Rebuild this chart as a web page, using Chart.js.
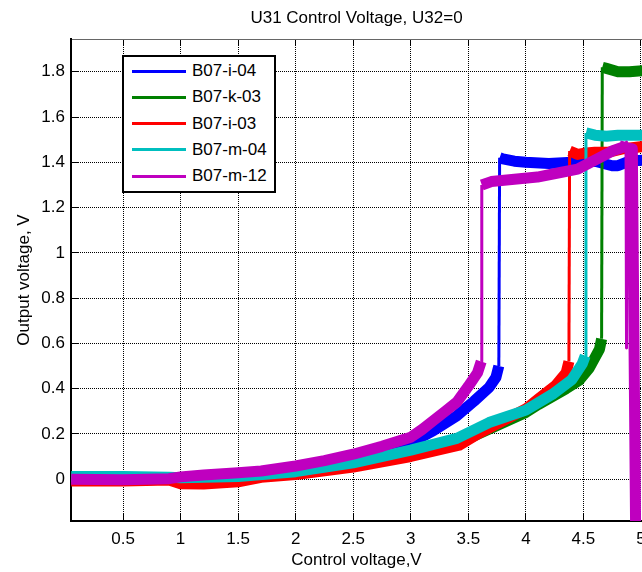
<!DOCTYPE html>
<html>
<head>
<meta charset="utf-8">
<title>U31 Control Voltage, U32=0</title>
<script src="https://cdn.jsdelivr.net/npm/chart.js@4.4.1/dist/chart.umd.min.js"></script>
<style>
  html, body { margin: 0; padding: 0; background: #fff; overflow: hidden; }
  #wrap { position: relative; width: 642px; height: 572px; }
  #legend {
    position: absolute; left: 122px; top: 55px; width: 150px; height: 133px;
    padding-top: 1px; border: 2px solid #000; background: #fff;
    font: 17px 'Liberation Sans', Arial, sans-serif; color: #000;
  }
  .row { display: flex; align-items: center; height: 26.25px; }
  .swatch { display: inline-block; width: 54px; height: 3px; margin: 0 6px 0 8px; }
</style>
</head>
<body>
<div id="wrap">
  <canvas id="chart" width="642" height="572"></canvas>
  <div id="legend"></div>
</div>
<script>
const seriesNames = ['B07-i-04', 'B07-k-03', 'B07-i-03', 'B07-m-04', 'B07-m-12'];
const seriesColors = ['#0000ff', '#008000', '#ff0000', '#00bfbf', '#bf00bf'];

const xTicks = [0.5, 1, 1.5, 2, 2.5, 3, 3.5, 4, 4.5, 5];
const yTicks = [0, 0.2, 0.4, 0.6, 0.8, 1, 1.2, 1.4, 1.6, 1.8];

const X_MIN = 0.048, X_MAX = 5.009;
const Y_MIN = -0.185, Y_MAX = 1.945;

// B07-i-04
const i04X = [0.05, 0.5, 1.0, 1.5, 2.0, 2.5, 2.8, 3.0, 3.2, 3.4, 3.55, 3.68, 3.74, 3.765, 3.772, 3.8, 3.9, 4.0, 4.2, 4.4, 4.6, 4.75, 4.8, 4.9, 5.02];
const i04Y = [-0.003, -0.006, 0.002, 0.02, 0.05, 0.09, 0.13, 0.16, 0.215, 0.28, 0.345, 0.405, 0.45, 0.50, 1.42, 1.415, 1.405, 1.40, 1.395, 1.40, 1.405, 1.385, 1.385, 1.405, 1.41];

// B07-k-03
const k03X = [0.05, 0.5, 1.0, 1.5, 2.0, 2.5, 3.0, 3.5, 4.0, 4.11, 4.35, 4.46, 4.55, 4.64, 4.658, 4.664, 4.7, 4.8, 4.9, 5.02];
const k03Y = [0.005, 0.006, 0.0, 0.005, 0.028, 0.065, 0.12, 0.18, 0.295, 0.33, 0.40, 0.435, 0.49, 0.575, 0.62, 1.82, 1.815, 1.80, 1.80, 1.805];

// B07-i-03
const i03X = [0.05, 0.5, 0.9, 1.0, 1.2, 1.5, 1.7, 2.0, 2.5, 3.0, 3.42, 3.6, 3.83, 4.0, 4.11, 4.26, 4.35, 4.374, 4.38, 4.45, 4.5, 4.6, 4.72, 4.85, 5.02];
const i03Y = [-0.008, -0.008, -0.004, -0.02, -0.022, -0.012, 0.008, 0.02, 0.053, 0.10, 0.15, 0.205, 0.265, 0.31, 0.355, 0.415, 0.47, 0.52, 1.45, 1.435, 1.44, 1.445, 1.445, 1.46, 1.47];

// B07-m-04
const m04X = [0.05, 0.5, 0.9, 1.0, 1.5, 2.0, 2.5, 3.0, 3.4, 3.68, 4.0, 4.23, 4.4, 4.49, 4.516, 4.522, 4.6, 4.7, 4.8, 4.9, 5.02];
const m04Y = [0.012, 0.012, 0.008, 0.006, 0.012, 0.033, 0.072, 0.128, 0.18, 0.25, 0.305, 0.375, 0.44, 0.51, 0.545, 1.53, 1.52, 1.515, 1.52, 1.52, 1.52];

// B07-m-12
const m12X = [0.05, 0.5, 0.9, 1.0, 1.2, 1.5, 1.7, 2.0, 2.25, 2.5, 2.75, 3.0, 3.1, 3.2, 3.3, 3.4, 3.5, 3.58, 3.612, 3.617, 3.7, 3.9, 4.1, 4.3, 4.45, 4.6, 4.75, 4.86, 4.87, 4.873, 4.876, 4.9, 4.925, 4.955];
const m12Y = [0.0, -0.003, 0.002, 0.01, 0.018, 0.028, 0.036, 0.058, 0.082, 0.11, 0.145, 0.185, 0.22, 0.26, 0.30, 0.34, 0.41, 0.47, 0.52, 1.30, 1.315, 1.325, 1.335, 1.355, 1.37, 1.41, 1.45, 1.47, 1.49, 0.58, 1.45, 1.46, 1.46, -0.3];

const seriesX = [i04X, k03X, i03X, m04X, m12X];
const seriesY = [i04Y, k03Y, i03Y, m04Y, m12Y];

// noisy traces look like thick bands, the switching jumps are thin
const isJump = ctx => {
  const a = ctx.p0.parsed.y, b = ctx.p1.parsed.y;
  return Math.abs(b - a) > 0.25 && Math.min(a, b) > Y_MIN;
};

Chart.defaults.font.family = "'Liberation Sans', Arial, sans-serif";
Chart.defaults.font.size = 17;
Chart.defaults.color = '#000';

const datasets = seriesNames.map((name, i) => ({
  label: name,
  data: seriesX[i].map((x, j) => ({ x, y: seriesY[i][j] })),
  borderColor: seriesColors[i],
  borderWidth: 11,
  borderJoinStyle: 'round',
  pointRadius: 0,
  tension: 0,
  clip: 0,
  order: seriesNames.length - 1 - i,
  segment: { borderWidth: ctx => isJump(ctx) ? 3 : 11 }
}));

const setTicks = values => scale => { scale.ticks = values.map(v => ({ value: v })); };

const grid = { color: '#000', lineWidth: 1, drawTicks: true, tickLength: -7, tickColor: '#000', tickWidth: 1 };

const ctx = document.querySelector('#chart').getContext('2d');
const chart = new Chart(ctx, {
  type: 'line',
  data: { datasets },
  options: {
    responsive: false,
    animation: false,
    devicePixelRatio: 1,
    layout: { padding: 0 },
    plugins: {
      legend: { display: false },
      tooltip: { enabled: false },
      title: {
        display: true,
        text: 'U31 Control Voltage, U32=0',
        fullSize: false,
        font: { size: 17, weight: 'normal' },
        padding: { top: 8, bottom: 10.6 }
      }
    },
    scales: {
      x: {
        type: 'linear', position: 'bottom', min: X_MIN, max: X_MAX,
        afterBuildTicks: setTicks(xTicks),
        afterFit: s => { s.height = 51; s.paddingLeft = 0; s.paddingRight = 0; },
        ticks: { callback: v => String(v), padding: 15, maxRotation: 0, autoSkip: false },
        grid,
        border: { color: '#000', width: 2, dash: [1, 1] },
        title: { display: true, text: 'Control voltage,V', padding: { top: 0, bottom: 1 } }
      },
      x2: {
        type: 'linear', position: 'top', min: X_MIN, max: X_MAX,
        afterBuildTicks: setTicks(xTicks),
        afterFit: s => { s.height = 0; s.paddingLeft = 0; s.paddingRight = 0; },
        ticks: { display: false },
        grid: { ...grid, drawOnChartArea: false },
        border: { color: '#666', width: 1 }
      },
      y: {
        type: 'linear', min: Y_MIN, max: Y_MAX,
        afterBuildTicks: setTicks(yTicks),
        afterFit: s => { s.width = 71; s.paddingTop = 0; s.paddingBottom = 0; },
        ticks: { callback: v => String(v), padding: 13 },
        grid,
        border: { color: '#000', width: 2, dash: [1, 1] },
        title: { display: true, text: 'Output voltage, V', padding: { top: 14, bottom: 0 } }
      }
    }
  }
});

// legend box inside the plot, MATLAB style
const legendBox = document.querySelector('#legend');
chart.data.datasets.forEach(ds => {
  const row = document.createElement('div');
  row.className = 'row';
  const swatch = document.createElement('span');
  swatch.className = 'swatch';
  swatch.style.background = ds.borderColor;
  const label = document.createElement('span');
  label.textContent = ds.label;
  row.appendChild(swatch);
  row.appendChild(label);
  legendBox.appendChild(row);
});
</script>
</body>
</html>
